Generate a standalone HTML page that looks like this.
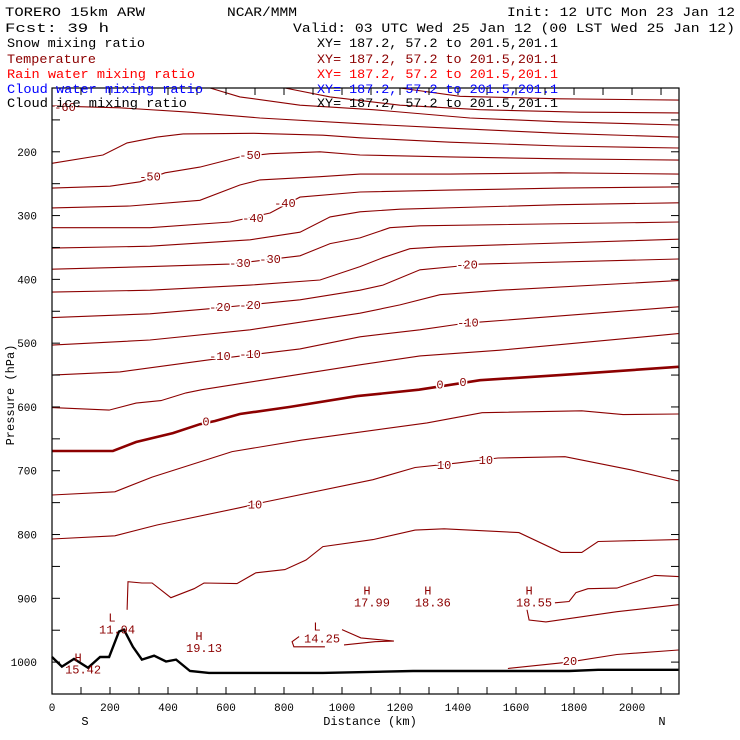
<!DOCTYPE html>
<html><head><meta charset="utf-8"><style>
html,body{margin:0;padding:0;background:#fff;}
svg{display:block;font-family:"Liberation Mono","DejaVu Sans Mono",monospace;}
</style></head><body>
<svg id="chart" width="740" height="740" viewBox="0 0 740 740" xmlns="http://www.w3.org/2000/svg">
<rect width="740" height="740" fill="#fff"/>
<g id="contours"></g>
<g id="terrain"></g>
<g id="labels"></g>
<g id="axes"></g>
<g id="header" font-size="13">
<text x="5" y="16" textLength="140" lengthAdjust="spacingAndGlyphs">TORERO  15km ARW</text>
<text x="227" y="16" textLength="70" lengthAdjust="spacingAndGlyphs">NCAR/MMM</text>
<text x="507" y="16" textLength="228" lengthAdjust="spacingAndGlyphs">Init: 12 UTC Mon 23 Jan 12</text>
<text x="5" y="32" textLength="104" lengthAdjust="spacingAndGlyphs">Fcst:   39 h</text>
<text x="293" y="32" textLength="442" lengthAdjust="spacingAndGlyphs">Valid: 03 UTC Wed 25 Jan 12 (00 LST Wed 25 Jan 12)</text>
<text x="7" y="47" textLength="138" lengthAdjust="spacingAndGlyphs">Snow mixing ratio</text>
<text x="317" y="47" textLength="241" lengthAdjust="spacingAndGlyphs">XY= 187.2, 57.2 to 201.5,201.1</text>
<text x="7" y="63" fill="#8c0000" textLength="89" lengthAdjust="spacingAndGlyphs">Temperature</text>
<text x="317" y="63" fill="#8c0000" textLength="241" lengthAdjust="spacingAndGlyphs">XY= 187.2, 57.2 to 201.5,201.1</text>
<text x="7" y="78" fill="#ff0000" textLength="188" lengthAdjust="spacingAndGlyphs">Rain water mixing ratio</text>
<text x="317" y="78" fill="#ff0000" textLength="241" lengthAdjust="spacingAndGlyphs">XY= 187.2, 57.2 to 201.5,201.1</text>
<text x="7" y="93" fill="#0000ff" textLength="196" lengthAdjust="spacingAndGlyphs">Cloud water mixing ratio</text>
<text x="317" y="93" fill="#0000ff" textLength="241" lengthAdjust="spacingAndGlyphs">XY= 187.2, 57.2 to 201.5,201.1</text>
<text x="7" y="107" textLength="180" lengthAdjust="spacingAndGlyphs">Cloud ice mixing ratio</text>
<text x="317" y="107" textLength="241" lengthAdjust="spacingAndGlyphs">XY= 187.2, 57.2 to 201.5,201.1</text>
</g>
</svg>
<script>
// ---- data (km along section, pressure hPa) ----
const cT3Km=[1200,1407,1752,2160]; const cT3P=[100,113,117,119];
const cT2Km=[803,959,1200,1476,1821,2160]; const cT2P=[100,114,127,134,138,139];
const cT1Km=[545,648,855,1107,1441,1752,2160]; const cT1P=[100,114,127,134,147,153,158];
const cM60Km=[0,234,476,717,1062,1372,1752,2160]; const cM60P=[128,131,138,147,156,163,171,177];
const cM55Km=[0,176,259,362,452,693,934,1062,1372,1752,2160]; const cM55P=[218,205,186,177,172,171,174,178,185,191,194];
const cM50Km=[0,200,303,390,510,648,752,924,1062,1372,1752,2160]; const cM50P=[257,254,247,233,224,208,203,200,205,208,211,213];
const cM45Km=[0,269,510,648,717,924,1062,1372,1752,2160]; const cM45P=[288,285,276,252,244,239,235,235,233,235];
const cM40Km=[0,338,614,752,855,1062,1372,1752,2160]; const cM40P=[319,319,310,296,271,263,260,257,255];
const cM35Km=[0,338,683,855,959,1062,1200,1752,2160]; const cM35P=[351,348,338,326,302,294,290,283,280];
const cM30Km=[0,338,614,855,959,1062,1165,1269,2160]; const cM30P=[384,380,376,363,344,335,319,316,310];
const cM25Km=[0,338,683,924,1062,1141,1234,1338,2160]; const cM25P=[420,417,409,401,380,366,352,349,337];
const cM20Km=[0,338,545,855,1062,1141,1269,1407,1476,2160]; const cM20P=[460,454,446,432,417,409,385,379,376,368];
const cM15Km=[0,338,683,1062,1200,1338,1545,2160]; const cM15P=[503,495,479,453,440,424,417,402];
const cM10Km=[0,234,545,855,1062,1269,1407,1476,2160]; const cM10P=[550,545,526,509,490,479,470,467,443];
const cM5Km=[0,197,290,376,462,517,683,1062,1269,1545,2160]; const cM5P=[601,605,594,590,578,573,561,534,520,511,485];
const c0Km=[0,210,290,417,510,562,648,821,1052,1265,1476,1752,2160]; const c0P=[669,669,655,641,627,622,611,600,583,573,558,550,537];
const c5Km=[0,217,345,621,862,1293,1483,1827,1969,2160]; const c5P=[738,733,710,670,652,625,609,606,612,611];
const c10Km=[0,217,362,648,734,1107,1252,1396,1538,1769,2000,2160]; const c10P=[807,802,785,758,749,714,695,688,680,678,699,716];
const c15Km=[259,262,310,345,410,490,524,638,703,803,876,934,1107,1252,1352,1610,1755,1827,1883,2160]; const c15P=[918,874,876,876,899,885,876,877,860,855,840,819,808,793,791,797,828,828,811,808];
const cUaKm=[2160,1948,1703,1645,1638]; const cUaP=[910,921,937,934,918];
const cUbKm=[1734,1783,1807,1848,1948,2079,2160]; const cUbP=[907,905,891,885,884,864,866];
const c20Km=[1572,1783,1948,2160]; const c20P=[1010,1000,988,981];
const cLaKm=[1000,1065,1179,1114,1007]; const cLaP=[949,962,967,968,973];
const cLbKm=[852,828,834,941]; const cLbP=[960,968,976,976];
const terrainKm=[0,34,76,124,166,197,231,248,279,310,352,393,428,476,541,607,934,1245,1783,1883,2160];
const terrainP=[992,1007,995,1009,992,992,952,949,976,996,990,999,996,1014,1017,1017,1017,1014,1014,1012,1012];
const labelText=["-60","-50","-50","-40","-40","-30","-30","-20","-20","-20","-10","-10","-10","0","0","0","10","10","10","20"];
const labelKm=[45,338,683,693,803,648,752,579,683,1431,579,683,1434,531,1338,1417,700,1352,1496,1786];
const labelP=[130,239,205,304,280,374,368,443,440,377,520,517,468,623,565,561,753,691,683,998];
const extLetter=["H","L","H","L","H","H","H"];
const extValue=["15.42","11.94","19.13","14.25","17.99","18.36","18.55"];
const extKm=[90,207,507,914,1086,1296,1645];
const extP=[993,930,959,944,888,888,888];
const xTickKm=[0,200,400,600,800,1000,1200,1400,1600,1800,2000];
const yTickP=[200,300,400,500,600,700,800,900,1000];

// ---- scales ----
const X0=52,X1=679,Y0=88,Y1=694,KMAX=2162,PTOP=100,PBOT=1050;
const xs=k=>X0+k*(X1-X0)/KMAX;
const ys=p=>Y0+(p-PTOP)*(Y1-Y0)/(PBOT-PTOP);
const NS="http://www.w3.org/2000/svg";
function mk(tag,attrs,parent){const e=document.createElementNS(NS,tag);for(const k in attrs)e.setAttribute(k,attrs[k]);parent.appendChild(e);return e;}
const RED="#8c0000";
const gC=document.getElementById('contours');
const series=[[cT3Km,cT3P,'contour-upper-1'],[cT2Km,cT2P,'contour-upper-2'],[cT1Km,cT1P,'contour-upper-3'],
[cM60Km,cM60P,'contour-minus60'],[cM55Km,cM55P,'contour-minus55'],[cM50Km,cM50P,'contour-minus50'],[cM45Km,cM45P,'contour-minus45'],
[cM40Km,cM40P,'contour-minus40'],[cM35Km,cM35P,'contour-minus35'],[cM30Km,cM30P,'contour-minus30'],[cM25Km,cM25P,'contour-minus25'],
[cM20Km,cM20P,'contour-minus20'],[cM15Km,cM15P,'contour-minus15'],[cM10Km,cM10P,'contour-minus10'],[cM5Km,cM5P,'contour-minus5'],
[c0Km,c0P,'contour-zero'],[c5Km,c5P,'contour-5'],[c10Km,c10P,'contour-10'],[c15Km,c15P,'contour-15'],
[cUaKm,cUaP,'contour-high-a'],[cUbKm,cUbP,'contour-high-b'],[c20Km,c20P,'contour-20'],[cLaKm,cLaP,'contour-low-a'],[cLbKm,cLbP,'contour-low-b']];
series.forEach(s=>{
  const pts=s[0].map((k,i)=>xs(k).toFixed(1)+','+ys(s[1][i]).toFixed(1)).join(' ');
  const el=mk('polyline',{points:pts,fill:'none',stroke:RED,'stroke-width':s[2]==='contour-zero'?2.6:1.1},gC);
  
  
});
const gT=document.getElementById('terrain');
const tl=mk('polyline',{points:terrainKm.map((k,i)=>xs(k).toFixed(1)+','+ys(terrainP[i]).toFixed(1)).join(' '),fill:'none',stroke:'#000','stroke-width':2.4},gT);



const gL=document.getElementById('labels');
labelText.forEach((t,i)=>{
  const e=mk('text',{x:xs(labelKm[i]),y:ys(labelP[i])+4,'text-anchor':'middle','font-size':12,fill:RED,stroke:'#fff','stroke-width':3,'paint-order':'stroke'},gL);
  e.textContent=t;
  
  
});
extLetter.forEach((t,i)=>{
  const a=mk('text',{x:xs(extKm[i]),y:ys(extP[i])+4,'text-anchor':'middle','font-size':12,fill:RED},gL);
  a.textContent=t;
  
  
  const b=mk('text',{x:xs(extKm[i])+5,y:ys(extP[i])+16,'text-anchor':'middle','font-size':12,fill:RED},gL);
  b.textContent=extValue[i];
  
  
});

const gA=document.getElementById('axes');
const fr=mk('rect',{x:X0,y:Y0,width:X1-X0,height:Y1-Y0,fill:'none',stroke:'#000','stroke-width':1.2},gA);


for(let k=0;k<=2100;k+=100){
  const x=xs(k);
  const t1=mk('line',{x1:x,x2:x,y1:Y1,y2:Y1-7,stroke:'#000'},gA);
  
  
  const t2=mk('line',{x1:x,x2:x,y1:Y0,y2:Y0+7,stroke:'#000'},gA);
  
  
}
for(let p=150;p<=1050;p+=50){
  const y=ys(p);
  const t1=mk('line',{x1:X0,x2:X0+8,y1:y,y2:y,stroke:'#000'},gA);
  
  
  const t2=mk('line',{x1:X1,x2:X1-8,y1:y,y2:y,stroke:'#000'},gA);
  
  
}
xTickKm.forEach(k=>{
  const e=mk('text',{x:xs(k),y:711,'text-anchor':'middle','font-size':11},gA);
  e.textContent=String(k);
  
  
});
yTickP.forEach(p=>{
  const e=mk('text',{x:37,y:ys(p)+4,'text-anchor':'end','font-size':11},gA);
  e.textContent=String(p);
  
  
});
const xt=mk('text',{x:370,y:725,'text-anchor':'middle','font-size':12},gA);
xt.textContent='Distance (km)';


const sL=mk('text',{x:85,y:725,'text-anchor':'middle','font-size':12},gA);
sL.textContent='S';


const nL=mk('text',{x:662,y:725,'text-anchor':'middle','font-size':12},gA);
nL.textContent='N';


const yt=mk('text',{x:0,y:0,'text-anchor':'middle','font-size':12,transform:'translate(14,395) rotate(-90)'},gA);
yt.textContent='Pressure (hPa)';


</script>
</body></html>
